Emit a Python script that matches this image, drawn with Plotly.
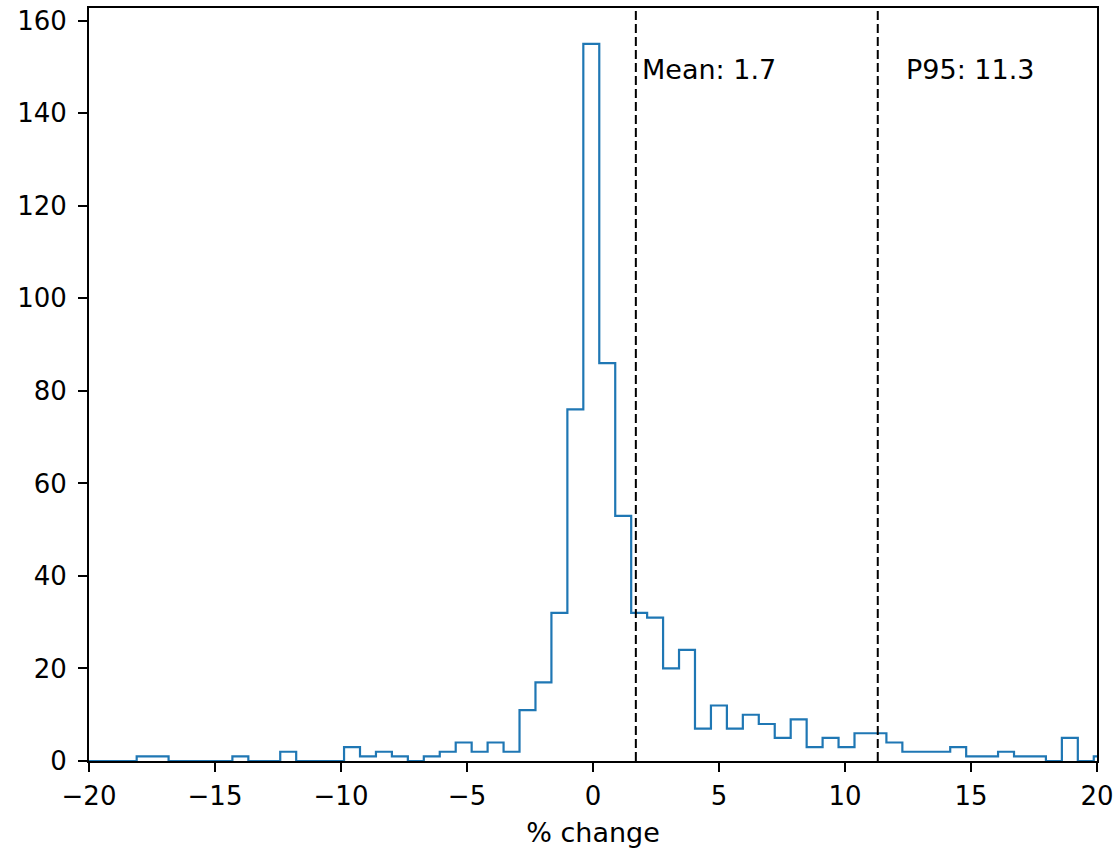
import numpy as np
import plotly.graph_objects as go

# Histogram bins (percent change)
BIN_START = -20.64   # left edge of the first bin
BIN_WIDTH = 0.633
counts = [
    0, 0, 0, 0, 1, 1, 0, 0, 0, 0, 1, 0, 0, 2, 0, 0,          # k=-32..-17
    0, 3, 1, 2, 1, 0, 1, 2, 4, 2, 4, 2, 11, 17, 32, 76,      # k=-16..-1
    155, 86, 53, 32, 31, 20, 24, 7, 12, 7, 10, 8, 5, 9, 3, 5,  # k=0..15
    3, 6, 6, 4, 2, 2, 2, 3, 1, 1, 2, 1, 1, 0, 5, 0, 1,       # k=16..32
]
mean_val = 1.7
p95_val = 11.3
x_ticks = [-20, -15, -10, -5, 0, 5, 10, 15, 20]
y_ticks = [0, 20, 40, 60, 80, 100, 120, 140, 160]

edges = BIN_START + BIN_WIDTH * np.arange(len(counts) + 1)
xs = [edges[0]] + list(edges)
ys = [0] + counts + [0]

FONT = "DejaVu Sans"
FS_TICK = 26
FS_TEXT = 27

fig = go.Figure()
fig.add_trace(go.Scatter(
    x=xs, y=ys, mode="lines", line=dict(shape="hv", color="#1f77b4", width=2.2),
    hoverinfo="skip", showlegend=False,
))

for v in (mean_val, p95_val):
    fig.add_shape(type="line", x0=v, x1=v, y0=0, y1=1, xref="x", yref="paper",
                  line=dict(color="black", width=2, dash="9px,4px"))

fig.add_annotation(x=mean_val + 0.15, y=149.5, text=f"Mean: {mean_val}", showarrow=False,
                   xanchor="left", yanchor="middle", font=dict(family=FONT, size=FS_TEXT, color="black"))
fig.add_annotation(x=p95_val + 1.05, y=149.5, text=f"P95: {p95_val}", showarrow=False,
                   xanchor="left", yanchor="middle", font=dict(family=FONT, size=FS_TEXT, color="black"))

fig.update_layout(
    width=1117, height=848,
    margin=dict(l=89, r=20, t=8, b=87, autoexpand=False),
    paper_bgcolor="white", plot_bgcolor="white",
    font=dict(family=FONT, size=FS_TICK, color="black"),
    showlegend=False,
)
fig.update_xaxes(
    range=[-20, 20], tickvals=x_ticks, ticktext=[("\u2212" + str(-t)) if t < 0 else str(t) for t in x_ticks],
    tickfont=dict(family=FONT, size=FS_TICK), automargin=False,
    showgrid=False, zeroline=False, showline=True, linecolor="black", linewidth=2, mirror=True,
    ticks="outside", ticklen=9, tickwidth=2, tickcolor="black", ticklabelstandoff=2,
    title=dict(text="% change", font=dict(family=FONT, size=FS_TEXT), standoff=14),
)
fig.update_yaxes(
    range=[0, 162.75], tickvals=y_ticks, tickfont=dict(family=FONT, size=FS_TICK), automargin=False,
    showgrid=False, zeroline=False, showline=True, linecolor="black", linewidth=2, mirror=True,
    ticks="outside", ticklen=9, tickwidth=2, tickcolor="black", ticklabelstandoff=6,
)

fig.write_html("out.html")
